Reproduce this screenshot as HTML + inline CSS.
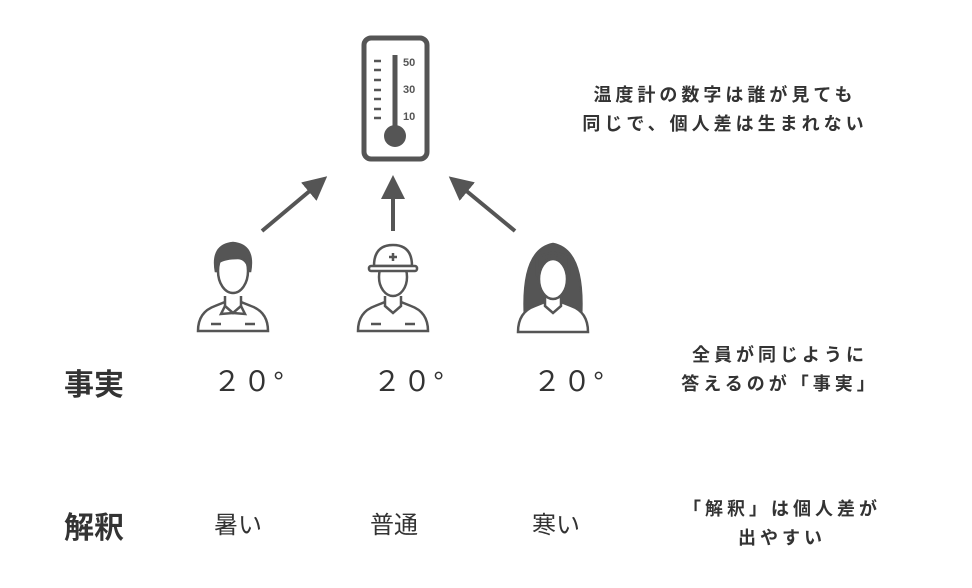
<!DOCTYPE html>
<html><head><meta charset="utf-8"><style>
body{margin:0;width:972px;height:588px;background:#fff;position:relative;overflow:hidden;font-family:"Liberation Sans","Noto Sans CJK JP",sans-serif;color:#333}
.t{position:absolute;white-space:nowrap}
.c{text-align:center;transform:translateX(-50%)}
.r{font-size:18px;font-weight:bold;letter-spacing:4px;line-height:29px}
</style></head><body>
<svg width="972" height="588" style="position:absolute;left:0;top:0">
<defs><marker id="a" markerWidth="6" markerHeight="6" refX="3" refY="3" orient="auto" markerUnits="strokeWidth"><path d="M0,0L6,3L0,6z" fill="#555"/></marker></defs>
<rect x="364" y="38" width="63" height="121" rx="7" fill="none" stroke="#555" stroke-width="5"/>
<line x1="395" y1="55" x2="395" y2="132" stroke="#555" stroke-width="5"/>
<circle cx="395" cy="136" r="11" fill="#555"/>
<g stroke="#555" stroke-width="2.5">
<line x1="374" y1="61" x2="381" y2="61"/><line x1="374" y1="70" x2="381" y2="70"/><line x1="374" y1="80" x2="381" y2="80"/><line x1="374" y1="90" x2="381" y2="90"/><line x1="374" y1="99" x2="381" y2="99"/><line x1="374" y1="109" x2="381" y2="109"/><line x1="374" y1="118" x2="381" y2="118"/></g>
<g font-size="11" font-weight="bold" fill="#555" font-family="Liberation Sans"><text x="403" y="66">50</text><text x="403" y="93">30</text><text x="403" y="120">10</text></g>
<g stroke="#555" stroke-width="4" marker-end="url(#a)">
<line x1="262" y1="231" x2="318" y2="184"/><line x1="393" y1="231" x2="393" y2="187"/><line x1="515" y1="231" x2="458" y2="184"/></g>
<g transform="translate(233,0)" stroke="#555" stroke-width="2.5" fill="#fff">
<path d="M-35,331 Q-35,312 -18,306 L-8,302 L8,302 L18,306 Q35,312 35,331 Z"/>
<path d="M-8,296 L-8,306 L0,313 L8,306 L8,296"/>
<path d="M-8,306 L-12,314 L0,313 L12,314 L8,306" fill="none"/>
<ellipse cx="0" cy="271" rx="15" ry="22" fill="#fff"/>
<path d="M-17,272 Q-22,245 0,243 Q22,245 17,272 Q14,258 5,258 Q-8,258 -14,262 Z" fill="#555"/>
<line x1="-22" y1="324" x2="-12" y2="324"/><line x1="12" y1="324" x2="22" y2="324"/>
</g>
<g transform="translate(393,0)" stroke="#555" stroke-width="2.5" fill="#fff">
<path d="M-35,331 Q-35,312 -18,306 L-8,302 L8,302 L18,306 Q35,312 35,331 Z"/>
<path d="M-8,296 L-8,306 L0,313 L8,306 L8,296"/>
<ellipse cx="0" cy="277" rx="14" ry="19"/>
<path d="M-19,266 Q-19,245 0,245 Q19,245 19,266 Z"/>
<rect x="-24" y="266" width="48" height="5" rx="2"/>
<line x1="-4" y1="257" x2="4" y2="257"/><line x1="0" y1="253" x2="0" y2="261"/>
<line x1="-22" y1="324" x2="-12" y2="324"/><line x1="12" y1="324" x2="22" y2="324"/>
</g>
<g transform="translate(553,0)" stroke="#555" stroke-width="2.5" fill="#fff">
<path d="M-28,318 Q-32,250 0,244 Q32,250 28,318 Z" fill="#555"/>
<path d="M-35,332 Q-35,312 -18,306 L-8,302 L8,302 L18,306 Q35,312 35,332 Z"/>
<path d="M-8,296 L-8,306 L0,313 L8,306 L8,296"/>
<ellipse cx="0" cy="279" rx="14" ry="20"/>
<path d="M-16,276 Q-14,258 4,258 Q12,262 16,276 L16,258 Q0,248 -16,258 Z" fill="#555"/>
</g>
</svg>
<div class="t c r" style="left:725px;top:81px">温度計の数字は誰が見ても<br>同じで、個人差は生まれない</div>
<div class="t" style="left:64px;top:360px;font-size:30px;font-weight:bold">事実</div>
<div class="t" style="left:213px;top:360px;font-size:28px;letter-spacing:2px">２０°</div>
<div class="t" style="left:373px;top:360px;font-size:28px;letter-spacing:2px">２０°</div>
<div class="t" style="left:533px;top:360px;font-size:28px;letter-spacing:2px">２０°</div>
<div class="t c r" style="left:780px;top:341px">全員が同じように<br>答えるのが「事実」</div>
<div class="t" style="left:64px;top:503px;font-size:30px;font-weight:bold">解釈</div>
<div class="t" style="left:214px;top:505px;font-size:24px">暑い</div>
<div class="t" style="left:370px;top:505px;font-size:24px">普通</div>
<div class="t" style="left:532px;top:505px;font-size:24px">寒い</div>
<div class="t c r" style="left:782px;top:495px">「解釈」は個人差が<br>出やすい</div>
</body></html>
